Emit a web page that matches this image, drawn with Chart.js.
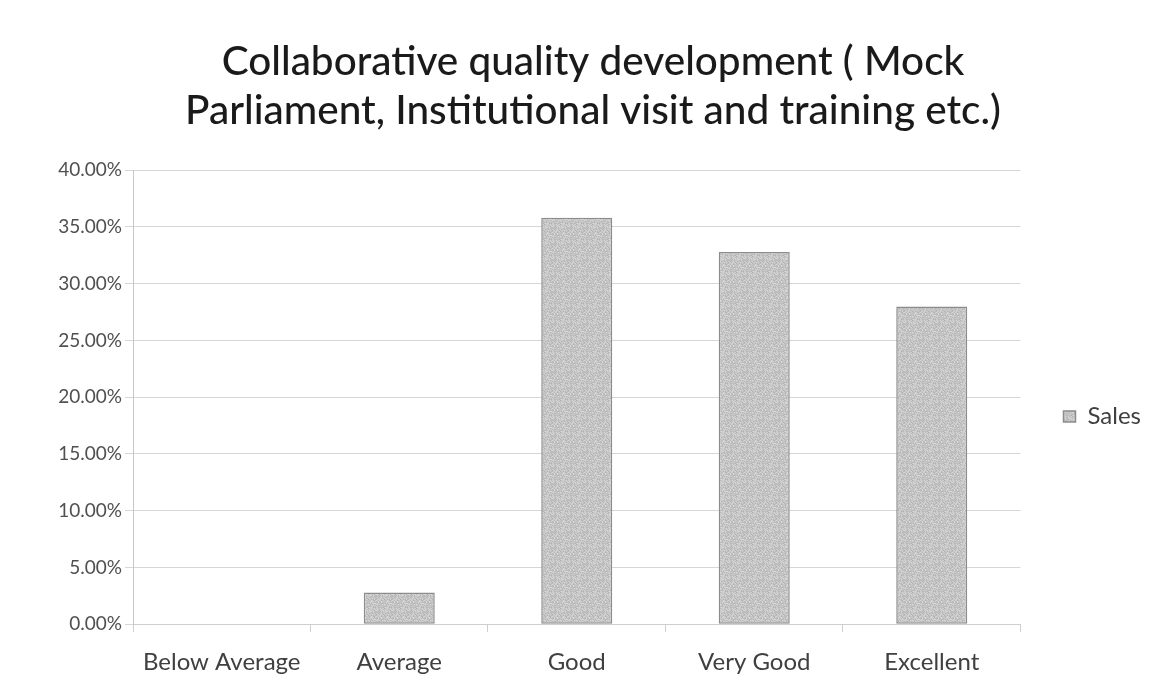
<!DOCTYPE html>
<html>
<head>
<meta charset="utf-8">
<script src="https://cdn.jsdelivr.net/npm/chart.js@4"></script>
<style>
  html, body { margin: 0; padding: 0; background: #ffffff; }
  #wrap { width: 1165px; height: 693px; position: relative; }
</style>
</head>
<body>
<div id="wrap"><canvas id="c" width="1165" height="693"></canvas></div>
<script>
// Survey ratings for collaborative quality development
const categories = ['Below Average', 'Average', 'Good', 'Very Good', 'Excellent'];
const salesValues = [0, 2.8, 35.8, 32.8, 28.0];   // percent of responses
const yTicks = [0, 5, 10, 15, 20, 25, 30, 35, 40];
const titleLines = ['Collaborative quality development ( Mock', 'Parliament, Institutional visit and training etc.)'];
const seriesName = 'Sales';

// light speckled grey fill for the bars, built from a fixed hash so it is stable
function speckle() {
  const p = document.createElement('canvas');
  p.width = 16; p.height = 16;
  const g = p.getContext('2d');
  for (let y = 0; y < 16; y++) {
    for (let x = 0; x < 16; x++) {
      const h = ((x * 73856093) ^ (y * 19349663)) >>> 0;
      const v = 178 + (h % 40);
      g.fillStyle = 'rgb(' + v + ',' + v + ',' + v + ')';
      g.fillRect(x, y, 1, 1);
    }
  }
  return g.createPattern(p, 'repeat');
}

const fontFam = 'Lato, "Open Sans", sans-serif';

new Chart(document.getElementById('c'), {
  type: 'bar',
  data: {
    labels: categories,
    datasets: [{
      label: seriesName,
      data: salesValues,
      backgroundColor: speckle(),
      borderColor: '#8c8c8c',
      borderWidth: 1.5,
      borderSkipped: false,
      barPercentage: 0.8,
      categoryPercentage: 0.5
    }]
  },
  options: {
    responsive: false,
    animation: false,
    devicePixelRatio: 1,
    layout: { padding: { left: 35, right: 14, top: 38, bottom: 0 } },
    plugins: {
      title: {
        display: true,
        text: titleLines,
        color: '#1a1a1a',
        font: { family: fontFam, size: 40.5, weight: '500' },
        lineHeight: 1.18,
        padding: { top: 0, bottom: 35 }
      },
      legend: {
        position: 'right',
        // empty title block only lowers the single legend entry
        title: { display: true, text: ' ', font: { family: fontFam, size: 10 }, padding: { top: 90, bottom: 0 } },
        labels: {
          color: '#404040',
          font: { family: fontFam, size: 24 },
          boxWidth: 12,
          boxHeight: 11,
          padding: 43
        }
      },
      tooltip: { enabled: false }
    },
    scales: {
      x: {
        grid: { display: true, drawOnChartArea: false, color: '#cfcfcf', tickLength: 8, offset: true },
        border: { color: '#cfcfcf' },
        ticks: { color: '#404040', font: { family: fontFam, size: 24 }, padding: 16, maxRotation: 0 }
      },
      y: {
        min: 0,
        max: 40,
        afterBuildTicks: (axis) => { axis.ticks = yTicks.map(v => ({ value: v })); },
        afterFit: (axis) => { axis.width = 98; },
        grid: { color: '#d6d6d6', tickLength: 8 },
        border: { color: '#c8c8c8' },
        ticks: {
          color: '#505050',
          font: { family: fontFam, size: 19 },
          padding: 3,
          callback: (v) => Number(v).toFixed(2) + '%'
        }
      }
    }
  }
});
</script>
</body>
</html>
